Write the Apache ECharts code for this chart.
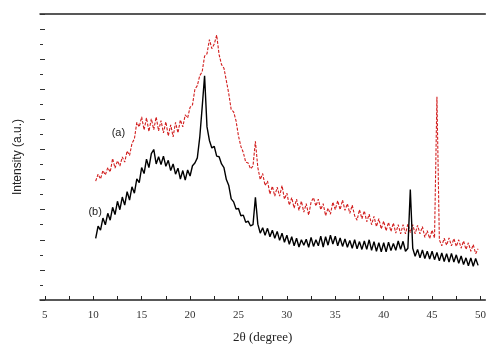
<!DOCTYPE html>
<html><head><meta charset="utf-8">
<script src="https://cdn.jsdelivr.net/npm/echarts@6/dist/echarts.min.js"></script>
<style>html,body{margin:0;padding:0;background:#fff}#c{width:489px;height:349px}</style>
</head><body><div id="c"></div>
<script>
// sampling of 2θ (degrees)
const startAngle = 10.25;
const angleStep = 0.25;

// (a) red pattern, arbitrary intensity units
const intensityA = [
  395,418,402,
  430,415,440,425,
  470,438,462,445,
  475,458,495,480,
  520,535,590,575,
  608,565,605,560,
  602,566,608,562,
  596,555,592,545,
  582,542,590,555,
  598,575,615,605,
  640,648,700,712,
  745,758,810,818,
  865,835,850,880,
  815,782,770,728,
  685,632,625,595,
  545,510,490,458,
  455,436,445,527,
  440,400,420,380,
  395,352,378,345,
  375,345,380,335,
  355,315,340,305,
  335,298,328,292,
  320,282,325,340,
  312,335,300,320,
  280,305,285,325,
  300,330,300,332,
  298,320,288,315,
  280,265,300,270,
  296,260,285,250,
  278,244,270,236,
  262,230,258,228,
  256,222,250,220,
  250,220,252,224,
  250,220,248,220,
  244,208,230,204,
  232,206,675,200,
  180,205,182,206,
  180,204,178,200,
  172,196,168,190,
  162,184,154,170
];

// (b) black pattern
const intensityB = [
  205,245,232,
  272,250,288,265,
  308,284,328,300,
  342,315,360,332,
  376,355,402,390,
  440,420,468,440,
  486,500,452,476,
  450,478,444,464,
  430,452,418,438,
  402,430,398,432,
  412,446,455,472,
  540,640,745,575,
  530,505,510,478,
  476,452,440,400,
  380,336,326,302,
  304,280,282,258,
  262,246,250,341,
  252,222,240,215,
  238,210,232,205,
  228,198,222,192,
  215,185,210,180,
  205,176,200,182,
  202,175,208,178,
  200,180,212,176,
  210,182,215,186,
  212,180,206,178,
  203,175,198,172,
  200,170,194,168,
  196,168,200,165,
  194,162,190,160,
  190,160,192,164,
  188,165,196,168,
  195,162,172,367,
  172,145,168,140,
  166,138,162,136,
  162,134,158,130,
  156,128,154,126,
  155,126,150,122,
  146,118,140,114,
  140,112,138,115
];

const xTickValues = [5,7.5,10,12.5,15,17.5,20,22.5,25,27.5,30,32.5,35,37.5,40,42.5,45,47.5,50];
const xLabelValues = [5,10,15,20,25,30,35,40,45,50];
const seriesNames = ['(a)','(b)'];
const labelPosA = [12.6, 555];
const labelPosB = [10.2, 292];

const pairs = arr => arr.map((v,i)=>[startAngle + i*angleStep, v]);

const chart = echarts.init(document.getElementById('c'), null, {renderer:'canvas'});
chart.setOption({
  animation:false,
  backgroundColor:'#fff',
  grid:{left:40, top:14, width:457, height:290, containLabel:false},
  xAxis:[{
    type:'value', min:4.5, max:50.5, position:'bottom',
    axisLine:{show:true, lineStyle:{color:'#222', width:1.5}},
    axisTick:{show:true, inside:true, length:4, customValues:xTickValues, lineStyle:{color:'#222'}},
    axisLabel:{show:true, customValues:xLabelValues, color:'#333', fontFamily:'Liberation Serif', fontSize:11, margin:10},
    splitLine:{show:false},
    name:'2θ (degree)', nameLocation:'middle', nameGap:31,
    nameTextStyle:{fontFamily:'Liberation Serif', fontSize:13, color:'#222'}
  },{
    type:'value', min:4.5, max:50.5, position:'top',
    axisLine:{show:true, lineStyle:{color:'#222', width:1.5}},
    axisTick:{show:false}, axisLabel:{show:false}, splitLine:{show:false}
  }],
  yAxis:{
    type:'value', min:0, max:950, interval:100,
    axisLine:{show:false},
    axisTick:{show:true, inside:true, length:5, lineStyle:{color:'#333'}},
    minorTick:{show:true, splitNumber:2, length:3, lineStyle:{color:'#333'}},
    axisLabel:{show:false}, splitLine:{show:false},
    name:'Intensity (a.u.)', nameLocation:'middle', nameGap:16,
    nameTextStyle:{fontFamily:'Liberation Sans', fontSize:12, color:'#222'}
  },
  series:[{
    name:seriesNames[0], type:'line', data:pairs(intensityA), symbol:'none',
    lineStyle:{color:'#d21f1f', width:1.1, type:[3,1.5]},
    markPoint:{symbol:'circle', symbolSize:0, data:[{coord:labelPosA}],
      label:{show:true, formatter:seriesNames[0], position:'inside', color:'#222', fontFamily:'Liberation Sans', fontSize:11}}
  },{
    name:seriesNames[1], type:'line', data:pairs(intensityB), symbol:'none',
    lineStyle:{color:'#000', width:1.4},
    markPoint:{symbol:'circle', symbolSize:0, data:[{coord:labelPosB}],
      label:{show:true, formatter:seriesNames[1], position:'inside', color:'#222', fontFamily:'Liberation Sans', fontSize:11}}
  }]
});
</script></body></html>
